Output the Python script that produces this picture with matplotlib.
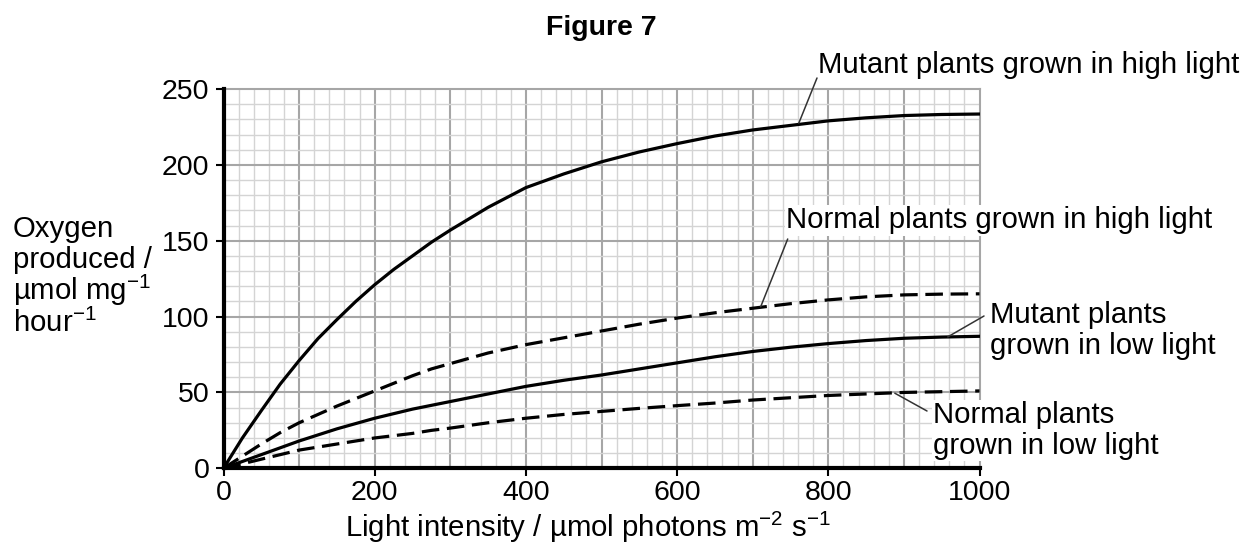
import matplotlib
matplotlib.use('Agg')
import matplotlib.pyplot as plt
import numpy as np

plt.rcParams['font.family'] = ['Liberation Sans', 'DejaVu Sans']
plt.rcParams['mathtext.fontset'] = 'custom'
plt.rcParams['mathtext.rm'] = 'Liberation Sans'
plt.rcParams['mathtext.default'] = 'regular'

# values (light intensity vs oxygen produced)
light = [0, 25, 50, 75, 100, 125, 150, 175, 200, 225, 250, 275, 300,
         350, 400, 450, 500, 550, 600, 650, 700, 750, 800, 850, 900, 950, 1000]
mutant_high = [0, 20, 38, 55.5, 71, 85.5, 98, 110, 121, 131, 140, 149, 157,
               172, 185, 194, 202, 208.5, 214, 219, 223, 226, 229, 231, 232.5, 233.2, 233.5]
normal_high = [0, 8, 16, 23.5, 30, 35.5, 41, 46, 51, 56, 61, 65.5, 69,
               76, 81.5, 86, 90.5, 95, 99, 102.5, 105.5, 108.5, 111, 113, 114.3, 114.8, 115]
mutant_low = [0, 4.5, 9, 13.5, 18, 22, 26, 29.5, 33, 36, 39, 41.5, 44,
              49, 54, 58, 61.5, 65.5, 69.5, 73.5, 77, 79.8, 82.2, 84.2, 85.7, 86.5, 87]
normal_low = [0, 3, 6, 9, 12, 14, 16, 18, 20, 21.5, 23, 25, 26.5,
              30, 33, 35.5, 37.5, 39.5, 41.3, 43, 45, 46.5, 48, 49, 50, 50.5, 51]

x_ticks = [0, 200, 400, 600, 800, 1000]
y_ticks = [0, 50, 100, 150, 200, 250]

W, H = 1252, 547
fig = plt.figure(figsize=(W / 100, H / 100), dpi=100)
ax = fig.add_axes([223.5 / W, 78.7 / H, 756 / W, 379.3 / H])

major_col = '#a6a6a6'
minor_col = '#d4d4d4'

# graph paper grid
for gx in np.arange(20, 1000, 20):
    dark = gx % 100 == 0
    ax.axvline(gx, color=major_col if dark else minor_col,
               lw=1.5 if dark else 1.0, zorder=0)
for gy in np.arange(10, 250, 10):
    dark = gy % 50 == 0
    ax.axhline(gy, color=major_col if dark else minor_col,
               lw=1.5 if dark else 1.0, zorder=0)

dash = (0, (5.5, 2.4))
ax.plot(light, mutant_high, color='black', lw=2.3, zorder=3)
ax.plot(light, normal_high, color='black', lw=2.3, ls=dash, zorder=3)
ax.plot(light, mutant_low, color='black', lw=2.3, zorder=3)
ax.plot(light, normal_low, color='black', lw=2.3, ls=dash, zorder=3)

ax.set_xlim(0, 1000)
ax.set_ylim(0, 250)
ax.set_xticks(x_ticks)
ax.set_yticks(y_ticks)
ax.tick_params(axis='both', direction='out', length=6, width=1.5,
               labelsize=20.5, pad=4, color='black')
ax.tick_params(axis='x', pad=2.5)

for s in ['left', 'bottom']:
    ax.spines[s].set_linewidth(3)
    ax.spines[s].set_color('black')
    ax.spines[s].set_zorder(4)
for s in ['top', 'right']:
    ax.spines[s].set_linewidth(1.5)
    ax.spines[s].set_color(major_col)

FS = 21.2


def label(px, py, s, ha='left', **kw):
    # place text using pixel coordinates measured from the top left corner
    fig.text(px / W, 1 - py / H, s, fontsize=FS, ha=ha, va='baseline', **kw)


def leader(px, py, xy):
    ax.annotate('', xy=xy, xycoords='data', xytext=(px, H - py),
                textcoords='figure pixels', annotation_clip=False,
                arrowprops=dict(arrowstyle='-', color='#333333', lw=1.1,
                                shrinkA=0, shrinkB=0))


box = dict(facecolor='white', edgecolor='none', pad=1)

fig.text(601.5 / W, 1 - 35 / H, 'Figure 7', fontsize=20.5, fontweight='bold',
         ha='center', va='baseline')

label(818, 73.3, 'Mutant plants grown in high light')
leader(817, 78, (761, 227.5))

label(786, 228.3, 'Normal plants grown in high light', bbox=box)
leader(787.7, 239, (710.6, 106.5))

label(990, 322.7, 'Mutant plants')
label(990, 354, 'grown in low light')
leader(984, 316, (958, 86.6))

label(933, 423.3, 'Normal plants', bbox=box)
label(933, 454, 'grown in low light', bbox=box)
leader(927, 411, (888, 49.5))

# y axis label as stacked lines
label(12.7, 236.7, 'Oxygen')
label(12.7, 268.4, 'produced /')
label(12.7, 300.1, r'µmol mg$^{-1}$')
label(12.7, 331.8, r'hour$^{-1}$')

label(588, 537, r'Light intensity / µmol photons m$^{-2}$ s$^{-1}$', ha='center')

fig.savefig('out.png', dpi=100)
